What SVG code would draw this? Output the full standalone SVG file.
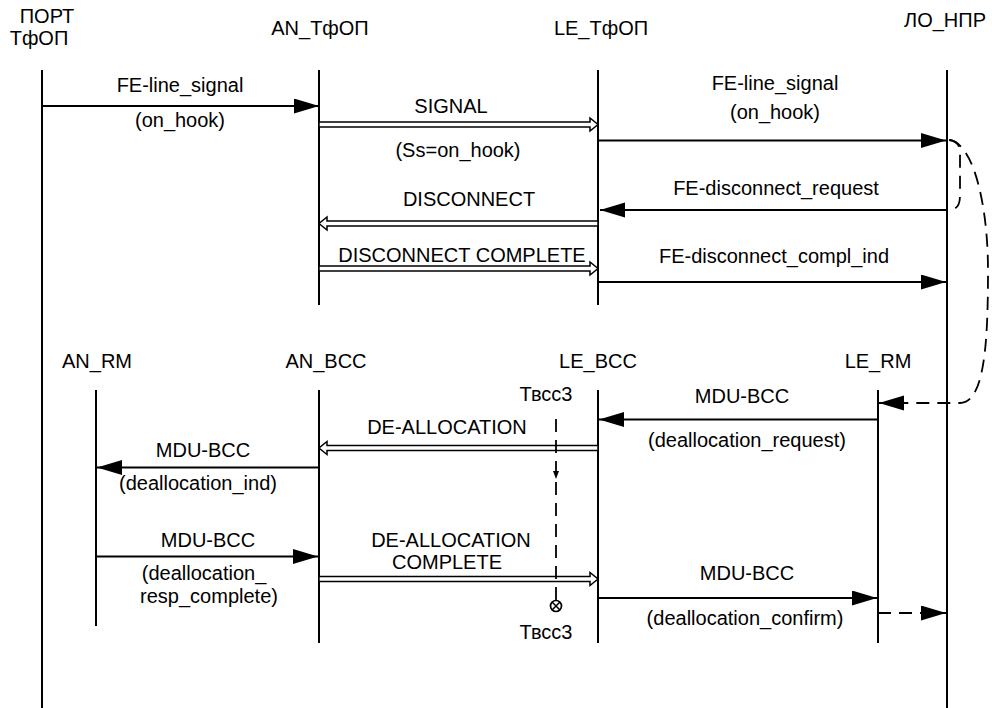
<svg xmlns="http://www.w3.org/2000/svg" width="992" height="708" viewBox="0 0 992 708">
<style>
text{font-family:"Liberation Sans",Arial,sans-serif;font-size:20px;fill:#000;text-anchor:middle}
.life{stroke:#000;stroke-width:2;fill:none}
.msg{stroke:#000;stroke-width:2;fill:none}
.dbl{stroke:#000;stroke-width:1.5;fill:#fff;stroke-linejoin:miter}
.dash{stroke:#000;stroke-width:1.8;fill:none;stroke-dasharray:13 8}
</style>
<defs>
<marker id="ah" markerUnits="userSpaceOnUse" markerWidth="26" markerHeight="16" refX="25" refY="7.5" orient="auto">
<path d="M0,0 L25,7.5 L0,15 z" fill="#000"/>
</marker>
</defs>
<rect width="992" height="708" fill="#fff"/>
<g id="port_tfop"><text x="47" y="23">ПОРТ</text><text x="39" y="45">ТфОП</text><line class="life" x1="42" y1="70" x2="42" y2="708"/></g>
<g id="an_tfop"><text x="320" y="35">AN_ТфОП</text><line class="life" x1="319" y1="70" x2="319" y2="305"/></g>
<g id="le_tfop"><text x="601" y="35">LE_ТфОП</text><line class="life" x1="598" y1="70" x2="598" y2="305"/></g>
<g id="lo_npr"><text x="945" y="27">ЛО_НПР</text><line class="life" x1="947" y1="70" x2="947" y2="708"/></g>
<g id="an_rm"><text x="97" y="368">AN_RM</text><line class="life" x1="96" y1="390" x2="96" y2="626"/></g>
<g id="an_bcc"><text x="326" y="368">AN_BCC</text><line class="life" x1="319" y1="390" x2="319" y2="643"/></g>
<g id="le_bcc"><text x="598" y="368">LE_BCC</text><line class="life" x1="598" y1="390" x2="598" y2="643"/></g>
<g id="le_rm"><text x="878" y="368">LE_RM</text><line class="life" x1="878" y1="390" x2="878" y2="643"/></g>
<g id="connectors">
<line class="msg" x1="42" y1="106" x2="319" y2="106" marker-end="url(#ah)"/>
<text x="180" y="92">FE-line_signal</text><text x="180" y="127">(on_hook)</text>
<path class="dbl" d="M319,122 L590,122 L590,118 L598,124.5 L590,131 L590,127 L319,127 z"/>
<text x="451" y="113">SIGNAL</text><text x="458" y="157">(Ss=on_hook)</text>
<line class="msg" x1="598" y1="140.5" x2="946" y2="140.5" marker-end="url(#ah)"/>
<text x="775" y="90">FE-line_signal</text><text x="775" y="119">(on_hook)</text>
<line class="msg" x1="947" y1="210" x2="600" y2="210" marker-end="url(#ah)"/>
<text x="776" y="195">FE-disconnect_request</text>
<path class="dbl" d="M598,221 L327,221 L327,217 L319,223.5 L327,230 L327,226 L598,226 z"/>
<text x="469" y="206">DISCONNECT</text>
<path class="dbl" d="M319,266 L590,266 L590,262 L598,268.5 L590,275 L590,271 L319,271 z"/>
<text x="462" y="262">DISCONNECT COMPLETE</text>
<line class="msg" x1="598" y1="282" x2="946" y2="282" marker-end="url(#ah)"/>
<text x="774" y="263">FE-disconnect_compl_ind</text>
<path class="dash" d="M949,140 C961,141 960,150 960,160 L960,195 C960,206 957,210 947,210"/>
<path class="dash" d="M950,140 C975,145 988,210 988,270 C988,340 985,403 960,403 L879,403" marker-end="url(#ah)"/>
<line class="msg" x1="878" y1="419.5" x2="599" y2="419.5" marker-end="url(#ah)"/>
<text x="742" y="403">MDU-BCC</text><text x="747" y="447">(deallocation_request)</text>
<path class="dbl" d="M598,445.5 L327,445.5 L327,441.5 L319,448 L327,454.5 L327,450.5 L598,450.5 z"/>
<text x="447" y="434">DE-ALLOCATION</text>
<line class="msg" x1="319" y1="467.5" x2="97" y2="467.5" marker-end="url(#ah)"/>
<text x="203" y="457">MDU-BCC</text><text x="198" y="490">(deallocation_ind)</text>
<line class="msg" x1="96" y1="556.5" x2="318" y2="556.5" marker-end="url(#ah)"/>
<text x="208" y="547">MDU-BCC</text><text x="204" y="580">(deallocation_</text><text x="209" y="603">resp_complete)</text>
<path class="dbl" d="M319,576.5 L590,576.5 L590,572.5 L598,579 L590,585.5 L590,581.5 L319,581.5 z"/>
<text x="451" y="547">DE-ALLOCATION</text><text x="447" y="569">COMPLETE</text>
<line class="msg" x1="598" y1="598" x2="877" y2="598" marker-end="url(#ah)"/>
<text x="747" y="580">MDU-BCC</text><text x="745" y="625">(deallocation_confirm)</text>
<path class="dash" d="M878,613 L946,613" marker-end="url(#ah)"/>
<text x="546" y="401">Твсс3</text>
<line class="dash" x1="556" y1="419" x2="556" y2="600"/>
<path d="M553,471 L559,471 L556,479 z" fill="#000"/>
<circle cx="556" cy="606" r="5.5" fill="#fff" stroke="#000" stroke-width="1.7"/>
<path d="M552.3,602.3 L559.7,609.7 M559.7,602.3 L552.3,609.7" stroke="#000" stroke-width="1.5"/>
<text x="546" y="639">Твсс3</text>
</g>
</svg>
